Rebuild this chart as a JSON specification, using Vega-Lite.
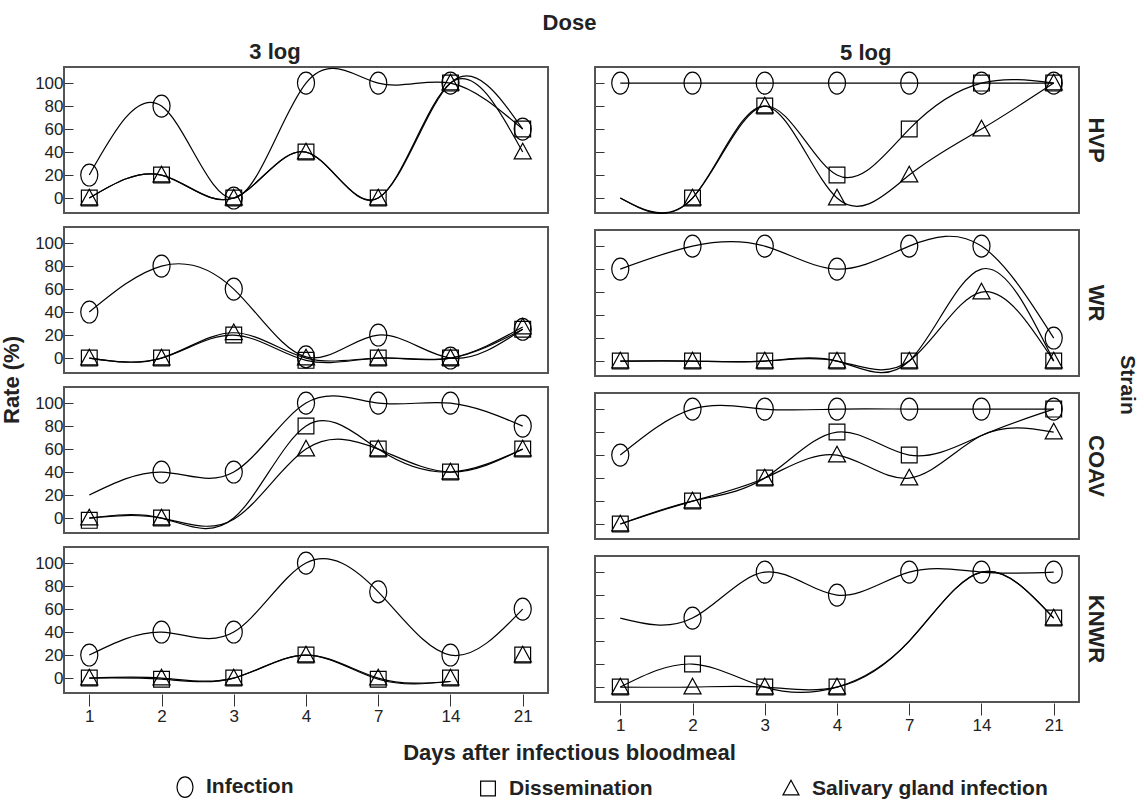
{
  "$schema": "https://vega.github.io/schema/vega-lite/v6.json",
  "padding": {"top": 12, "left": 0, "right": 0, "bottom": 0},
  "config": {
    "font": "Liberation Sans",
    "view": {"stroke": "#555555", "strokeWidth": 2},
    "axis": {"labelFont": "Liberation Sans", "labelColor": "#222222", "tickColor": "#333333", "domain": false, "grid": false, "labelOverlap": false},
    "header": {"labelFont": "Liberation Sans", "titleFont": "Liberation Sans"}
  },
  "title": {"text": "Dose", "fontSize": 22, "fontWeight": "bold", "color": "#222222", "anchor": "middle", "offset": 6},
  "datasets": {
    "rates": [
      {"dose": "3 log", "strain": "HVP", "measure": "Infection", "day": "1", "point": 20, "curve": 20},
      {"dose": "3 log", "strain": "HVP", "measure": "Infection", "day": "2", "point": 80, "curve": 80},
      {"dose": "3 log", "strain": "HVP", "measure": "Infection", "day": "3", "point": 0, "curve": 0},
      {"dose": "3 log", "strain": "HVP", "measure": "Infection", "day": "4", "point": 100, "curve": 100},
      {"dose": "3 log", "strain": "HVP", "measure": "Infection", "day": "7", "point": 100, "curve": 100},
      {"dose": "3 log", "strain": "HVP", "measure": "Infection", "day": "14", "point": 100, "curve": 100},
      {"dose": "3 log", "strain": "HVP", "measure": "Infection", "day": "21", "point": 60, "curve": 60},
      {"dose": "3 log", "strain": "HVP", "measure": "Dissemination", "day": "1", "point": 0, "curve": 0},
      {"dose": "3 log", "strain": "HVP", "measure": "Dissemination", "day": "2", "point": 20, "curve": 20},
      {"dose": "3 log", "strain": "HVP", "measure": "Dissemination", "day": "3", "point": 0, "curve": 0},
      {"dose": "3 log", "strain": "HVP", "measure": "Dissemination", "day": "4", "point": 40, "curve": 40},
      {"dose": "3 log", "strain": "HVP", "measure": "Dissemination", "day": "7", "point": 0, "curve": 0},
      {"dose": "3 log", "strain": "HVP", "measure": "Dissemination", "day": "14", "point": 100, "curve": 100},
      {"dose": "3 log", "strain": "HVP", "measure": "Dissemination", "day": "21", "point": 60, "curve": 60},
      {"dose": "3 log", "strain": "HVP", "measure": "Salivary gland infection", "day": "1", "point": 0, "curve": 0},
      {"dose": "3 log", "strain": "HVP", "measure": "Salivary gland infection", "day": "2", "point": 20, "curve": 20},
      {"dose": "3 log", "strain": "HVP", "measure": "Salivary gland infection", "day": "3", "point": 0, "curve": 0},
      {"dose": "3 log", "strain": "HVP", "measure": "Salivary gland infection", "day": "4", "point": 40, "curve": 40},
      {"dose": "3 log", "strain": "HVP", "measure": "Salivary gland infection", "day": "7", "point": 0, "curve": 0},
      {"dose": "3 log", "strain": "HVP", "measure": "Salivary gland infection", "day": "14", "point": 100, "curve": 100},
      {"dose": "3 log", "strain": "HVP", "measure": "Salivary gland infection", "day": "21", "point": 40, "curve": 40},

      {"dose": "5 log", "strain": "HVP", "measure": "Infection", "day": "1", "point": 100, "curve": 100},
      {"dose": "5 log", "strain": "HVP", "measure": "Infection", "day": "2", "point": 100, "curve": 100},
      {"dose": "5 log", "strain": "HVP", "measure": "Infection", "day": "3", "point": 100, "curve": 100},
      {"dose": "5 log", "strain": "HVP", "measure": "Infection", "day": "4", "point": 100, "curve": 100},
      {"dose": "5 log", "strain": "HVP", "measure": "Infection", "day": "7", "point": 100, "curve": 100},
      {"dose": "5 log", "strain": "HVP", "measure": "Infection", "day": "14", "point": 100, "curve": 100},
      {"dose": "5 log", "strain": "HVP", "measure": "Infection", "day": "21", "point": 100, "curve": 100},
      {"dose": "5 log", "strain": "HVP", "measure": "Dissemination", "day": "1", "point": null, "curve": 0},
      {"dose": "5 log", "strain": "HVP", "measure": "Dissemination", "day": "2", "point": 0, "curve": 0},
      {"dose": "5 log", "strain": "HVP", "measure": "Dissemination", "day": "3", "point": 80, "curve": 80},
      {"dose": "5 log", "strain": "HVP", "measure": "Dissemination", "day": "4", "point": 20, "curve": 20},
      {"dose": "5 log", "strain": "HVP", "measure": "Dissemination", "day": "7", "point": 60, "curve": 60},
      {"dose": "5 log", "strain": "HVP", "measure": "Dissemination", "day": "14", "point": 100, "curve": 100},
      {"dose": "5 log", "strain": "HVP", "measure": "Dissemination", "day": "21", "point": 100, "curve": 100},
      {"dose": "5 log", "strain": "HVP", "measure": "Salivary gland infection", "day": "1", "point": null, "curve": 0},
      {"dose": "5 log", "strain": "HVP", "measure": "Salivary gland infection", "day": "2", "point": 0, "curve": 0},
      {"dose": "5 log", "strain": "HVP", "measure": "Salivary gland infection", "day": "3", "point": 80, "curve": 80},
      {"dose": "5 log", "strain": "HVP", "measure": "Salivary gland infection", "day": "4", "point": 0, "curve": 0},
      {"dose": "5 log", "strain": "HVP", "measure": "Salivary gland infection", "day": "7", "point": 20, "curve": 20},
      {"dose": "5 log", "strain": "HVP", "measure": "Salivary gland infection", "day": "14", "point": 60, "curve": 60},
      {"dose": "5 log", "strain": "HVP", "measure": "Salivary gland infection", "day": "21", "point": 100, "curve": 100},

      {"dose": "3 log", "strain": "WR", "measure": "Infection", "day": "1", "point": 40, "curve": 40},
      {"dose": "3 log", "strain": "WR", "measure": "Infection", "day": "2", "point": 80, "curve": 80},
      {"dose": "3 log", "strain": "WR", "measure": "Infection", "day": "3", "point": 60, "curve": 60},
      {"dose": "3 log", "strain": "WR", "measure": "Infection", "day": "4", "point": 1, "curve": 1},
      {"dose": "3 log", "strain": "WR", "measure": "Infection", "day": "7", "point": 20, "curve": 20},
      {"dose": "3 log", "strain": "WR", "measure": "Infection", "day": "14", "point": 0, "curve": 0},
      {"dose": "3 log", "strain": "WR", "measure": "Infection", "day": "21", "point": 25, "curve": 25},
      {"dose": "3 log", "strain": "WR", "measure": "Dissemination", "day": "1", "point": 0, "curve": 0},
      {"dose": "3 log", "strain": "WR", "measure": "Dissemination", "day": "2", "point": 0, "curve": 0},
      {"dose": "3 log", "strain": "WR", "measure": "Dissemination", "day": "3", "point": 20, "curve": 20},
      {"dose": "3 log", "strain": "WR", "measure": "Dissemination", "day": "4", "point": -2, "curve": -2},
      {"dose": "3 log", "strain": "WR", "measure": "Dissemination", "day": "7", "point": 0, "curve": 0},
      {"dose": "3 log", "strain": "WR", "measure": "Dissemination", "day": "14", "point": 0, "curve": 0},
      {"dose": "3 log", "strain": "WR", "measure": "Dissemination", "day": "21", "point": 25, "curve": 25},
      {"dose": "3 log", "strain": "WR", "measure": "Salivary gland infection", "day": "1", "point": 0, "curve": 0},
      {"dose": "3 log", "strain": "WR", "measure": "Salivary gland infection", "day": "2", "point": 0, "curve": 0},
      {"dose": "3 log", "strain": "WR", "measure": "Salivary gland infection", "day": "3", "point": 22, "curve": 22},
      {"dose": "3 log", "strain": "WR", "measure": "Salivary gland infection", "day": "4", "point": 0, "curve": 0},
      {"dose": "3 log", "strain": "WR", "measure": "Salivary gland infection", "day": "7", "point": 0, "curve": 0},
      {"dose": "3 log", "strain": "WR", "measure": "Salivary gland infection", "day": "14", "point": 0, "curve": 0},
      {"dose": "3 log", "strain": "WR", "measure": "Salivary gland infection", "day": "21", "point": 27, "curve": 27},

      {"dose": "5 log", "strain": "WR", "measure": "Infection", "day": "1", "point": 80, "curve": 80},
      {"dose": "5 log", "strain": "WR", "measure": "Infection", "day": "2", "point": 100, "curve": 100},
      {"dose": "5 log", "strain": "WR", "measure": "Infection", "day": "3", "point": 100, "curve": 100},
      {"dose": "5 log", "strain": "WR", "measure": "Infection", "day": "4", "point": 80, "curve": 80},
      {"dose": "5 log", "strain": "WR", "measure": "Infection", "day": "7", "point": 100, "curve": 100},
      {"dose": "5 log", "strain": "WR", "measure": "Infection", "day": "14", "point": 100, "curve": 100},
      {"dose": "5 log", "strain": "WR", "measure": "Infection", "day": "21", "point": 20, "curve": 20},
      {"dose": "5 log", "strain": "WR", "measure": "Dissemination", "day": "1", "point": 0, "curve": 0},
      {"dose": "5 log", "strain": "WR", "measure": "Dissemination", "day": "2", "point": 0, "curve": 0},
      {"dose": "5 log", "strain": "WR", "measure": "Dissemination", "day": "3", "point": 0, "curve": 0},
      {"dose": "5 log", "strain": "WR", "measure": "Dissemination", "day": "4", "point": 0, "curve": 0},
      {"dose": "5 log", "strain": "WR", "measure": "Dissemination", "day": "7", "point": 0, "curve": 0},
      {"dose": "5 log", "strain": "WR", "measure": "Dissemination", "day": "14", "point": null, "curve": 80},
      {"dose": "5 log", "strain": "WR", "measure": "Dissemination", "day": "21", "point": 0, "curve": 0},
      {"dose": "5 log", "strain": "WR", "measure": "Salivary gland infection", "day": "1", "point": 0, "curve": 0},
      {"dose": "5 log", "strain": "WR", "measure": "Salivary gland infection", "day": "2", "point": 0, "curve": 0},
      {"dose": "5 log", "strain": "WR", "measure": "Salivary gland infection", "day": "3", "point": 0, "curve": 0},
      {"dose": "5 log", "strain": "WR", "measure": "Salivary gland infection", "day": "4", "point": 0, "curve": 0},
      {"dose": "5 log", "strain": "WR", "measure": "Salivary gland infection", "day": "7", "point": 0, "curve": 0},
      {"dose": "5 log", "strain": "WR", "measure": "Salivary gland infection", "day": "14", "point": 60, "curve": 60},
      {"dose": "5 log", "strain": "WR", "measure": "Salivary gland infection", "day": "21", "point": 0, "curve": 0},

      {"dose": "3 log", "strain": "COAV", "measure": "Infection", "day": "1", "point": null, "curve": 20},
      {"dose": "3 log", "strain": "COAV", "measure": "Infection", "day": "2", "point": 40, "curve": 40},
      {"dose": "3 log", "strain": "COAV", "measure": "Infection", "day": "3", "point": 40, "curve": 40},
      {"dose": "3 log", "strain": "COAV", "measure": "Infection", "day": "4", "point": 100, "curve": 100},
      {"dose": "3 log", "strain": "COAV", "measure": "Infection", "day": "7", "point": 100, "curve": 100},
      {"dose": "3 log", "strain": "COAV", "measure": "Infection", "day": "14", "point": 100, "curve": 100},
      {"dose": "3 log", "strain": "COAV", "measure": "Infection", "day": "21", "point": 80, "curve": 80},
      {"dose": "3 log", "strain": "COAV", "measure": "Dissemination", "day": "1", "point": -2, "curve": 0},
      {"dose": "3 log", "strain": "COAV", "measure": "Dissemination", "day": "2", "point": 0, "curve": 0},
      {"dose": "3 log", "strain": "COAV", "measure": "Dissemination", "day": "3", "point": null, "curve": 0},
      {"dose": "3 log", "strain": "COAV", "measure": "Dissemination", "day": "4", "point": 80, "curve": 80},
      {"dose": "3 log", "strain": "COAV", "measure": "Dissemination", "day": "7", "point": 60, "curve": 60},
      {"dose": "3 log", "strain": "COAV", "measure": "Dissemination", "day": "14", "point": 40, "curve": 40},
      {"dose": "3 log", "strain": "COAV", "measure": "Dissemination", "day": "21", "point": 60, "curve": 60},
      {"dose": "3 log", "strain": "COAV", "measure": "Salivary gland infection", "day": "1", "point": 0, "curve": 0},
      {"dose": "3 log", "strain": "COAV", "measure": "Salivary gland infection", "day": "2", "point": 0, "curve": 0},
      {"dose": "3 log", "strain": "COAV", "measure": "Salivary gland infection", "day": "3", "point": null, "curve": -1},
      {"dose": "3 log", "strain": "COAV", "measure": "Salivary gland infection", "day": "4", "point": 60, "curve": 60},
      {"dose": "3 log", "strain": "COAV", "measure": "Salivary gland infection", "day": "7", "point": 60, "curve": 60},
      {"dose": "3 log", "strain": "COAV", "measure": "Salivary gland infection", "day": "14", "point": 40, "curve": 40},
      {"dose": "3 log", "strain": "COAV", "measure": "Salivary gland infection", "day": "21", "point": 60, "curve": 60},

      {"dose": "5 log", "strain": "COAV", "measure": "Infection", "day": "1", "point": 60, "curve": 60},
      {"dose": "5 log", "strain": "COAV", "measure": "Infection", "day": "2", "point": 100, "curve": 100},
      {"dose": "5 log", "strain": "COAV", "measure": "Infection", "day": "3", "point": 100, "curve": 100},
      {"dose": "5 log", "strain": "COAV", "measure": "Infection", "day": "4", "point": 100, "curve": 100},
      {"dose": "5 log", "strain": "COAV", "measure": "Infection", "day": "7", "point": 100, "curve": 100},
      {"dose": "5 log", "strain": "COAV", "measure": "Infection", "day": "14", "point": 100, "curve": 100},
      {"dose": "5 log", "strain": "COAV", "measure": "Infection", "day": "21", "point": 100, "curve": 100},
      {"dose": "5 log", "strain": "COAV", "measure": "Dissemination", "day": "1", "point": 0, "curve": 0},
      {"dose": "5 log", "strain": "COAV", "measure": "Dissemination", "day": "2", "point": 20, "curve": 20},
      {"dose": "5 log", "strain": "COAV", "measure": "Dissemination", "day": "3", "point": 40, "curve": 40},
      {"dose": "5 log", "strain": "COAV", "measure": "Dissemination", "day": "4", "point": 80, "curve": 80},
      {"dose": "5 log", "strain": "COAV", "measure": "Dissemination", "day": "7", "point": 60, "curve": 60},
      {"dose": "5 log", "strain": "COAV", "measure": "Dissemination", "day": "14", "point": null, "curve": 77},
      {"dose": "5 log", "strain": "COAV", "measure": "Dissemination", "day": "21", "point": 100, "curve": 100},
      {"dose": "5 log", "strain": "COAV", "measure": "Salivary gland infection", "day": "1", "point": 0, "curve": 0},
      {"dose": "5 log", "strain": "COAV", "measure": "Salivary gland infection", "day": "2", "point": 20, "curve": 20},
      {"dose": "5 log", "strain": "COAV", "measure": "Salivary gland infection", "day": "3", "point": 40, "curve": 40},
      {"dose": "5 log", "strain": "COAV", "measure": "Salivary gland infection", "day": "4", "point": 60, "curve": 60},
      {"dose": "5 log", "strain": "COAV", "measure": "Salivary gland infection", "day": "7", "point": 40, "curve": 40},
      {"dose": "5 log", "strain": "COAV", "measure": "Salivary gland infection", "day": "14", "point": null, "curve": 77},
      {"dose": "5 log", "strain": "COAV", "measure": "Salivary gland infection", "day": "21", "point": 80, "curve": 80},

      {"dose": "3 log", "strain": "KNWR", "measure": "Infection", "day": "1", "point": 20, "curve": 20},
      {"dose": "3 log", "strain": "KNWR", "measure": "Infection", "day": "2", "point": 40, "curve": 40},
      {"dose": "3 log", "strain": "KNWR", "measure": "Infection", "day": "3", "point": 40, "curve": 40},
      {"dose": "3 log", "strain": "KNWR", "measure": "Infection", "day": "4", "point": 100, "curve": 100},
      {"dose": "3 log", "strain": "KNWR", "measure": "Infection", "day": "7", "point": 75, "curve": 75},
      {"dose": "3 log", "strain": "KNWR", "measure": "Infection", "day": "14", "point": 20, "curve": 20},
      {"dose": "3 log", "strain": "KNWR", "measure": "Infection", "day": "21", "point": 60, "curve": 60},
      {"dose": "3 log", "strain": "KNWR", "measure": "Dissemination", "day": "1", "point": 0, "curve": 0},
      {"dose": "3 log", "strain": "KNWR", "measure": "Dissemination", "day": "2", "point": -1, "curve": -1},
      {"dose": "3 log", "strain": "KNWR", "measure": "Dissemination", "day": "3", "point": 0, "curve": 0},
      {"dose": "3 log", "strain": "KNWR", "measure": "Dissemination", "day": "4", "point": 20, "curve": 20},
      {"dose": "3 log", "strain": "KNWR", "measure": "Dissemination", "day": "7", "point": -1, "curve": -1},
      {"dose": "3 log", "strain": "KNWR", "measure": "Dissemination", "day": "14", "point": 0, "curve": -3},
      {"dose": "3 log", "strain": "KNWR", "measure": "Dissemination", "day": "21", "point": 20, "curve": null},
      {"dose": "3 log", "strain": "KNWR", "measure": "Salivary gland infection", "day": "1", "point": 0, "curve": 0},
      {"dose": "3 log", "strain": "KNWR", "measure": "Salivary gland infection", "day": "2", "point": 0, "curve": 0},
      {"dose": "3 log", "strain": "KNWR", "measure": "Salivary gland infection", "day": "3", "point": 0, "curve": 0},
      {"dose": "3 log", "strain": "KNWR", "measure": "Salivary gland infection", "day": "4", "point": 20, "curve": 20},
      {"dose": "3 log", "strain": "KNWR", "measure": "Salivary gland infection", "day": "7", "point": 0, "curve": 0},
      {"dose": "3 log", "strain": "KNWR", "measure": "Salivary gland infection", "day": "14", "point": 0, "curve": -3},
      {"dose": "3 log", "strain": "KNWR", "measure": "Salivary gland infection", "day": "21", "point": 20, "curve": null},

      {"dose": "5 log", "strain": "KNWR", "measure": "Infection", "day": "1", "point": null, "curve": 60},
      {"dose": "5 log", "strain": "KNWR", "measure": "Infection", "day": "2", "point": 60, "curve": 60},
      {"dose": "5 log", "strain": "KNWR", "measure": "Infection", "day": "3", "point": 100, "curve": 100},
      {"dose": "5 log", "strain": "KNWR", "measure": "Infection", "day": "4", "point": 80, "curve": 80},
      {"dose": "5 log", "strain": "KNWR", "measure": "Infection", "day": "7", "point": 100, "curve": 100},
      {"dose": "5 log", "strain": "KNWR", "measure": "Infection", "day": "14", "point": 100, "curve": 100},
      {"dose": "5 log", "strain": "KNWR", "measure": "Infection", "day": "21", "point": 100, "curve": 100},
      {"dose": "5 log", "strain": "KNWR", "measure": "Dissemination", "day": "1", "point": 0, "curve": 0},
      {"dose": "5 log", "strain": "KNWR", "measure": "Dissemination", "day": "2", "point": 20, "curve": 20},
      {"dose": "5 log", "strain": "KNWR", "measure": "Dissemination", "day": "3", "point": 0, "curve": 0},
      {"dose": "5 log", "strain": "KNWR", "measure": "Dissemination", "day": "4", "point": 0, "curve": 0},
      {"dose": "5 log", "strain": "KNWR", "measure": "Dissemination", "day": "7", "point": null, "curve": 40},
      {"dose": "5 log", "strain": "KNWR", "measure": "Dissemination", "day": "14", "point": null, "curve": 100},
      {"dose": "5 log", "strain": "KNWR", "measure": "Dissemination", "day": "21", "point": 60, "curve": 60},
      {"dose": "5 log", "strain": "KNWR", "measure": "Salivary gland infection", "day": "1", "point": 0, "curve": 0},
      {"dose": "5 log", "strain": "KNWR", "measure": "Salivary gland infection", "day": "2", "point": 0, "curve": 0},
      {"dose": "5 log", "strain": "KNWR", "measure": "Salivary gland infection", "day": "3", "point": 0, "curve": 0},
      {"dose": "5 log", "strain": "KNWR", "measure": "Salivary gland infection", "day": "4", "point": 0, "curve": 0},
      {"dose": "5 log", "strain": "KNWR", "measure": "Salivary gland infection", "day": "7", "point": null, "curve": 40},
      {"dose": "5 log", "strain": "KNWR", "measure": "Salivary gland infection", "day": "14", "point": null, "curve": 100},
      {"dose": "5 log", "strain": "KNWR", "measure": "Salivary gland infection", "day": "21", "point": 60, "curve": 60}
    ]
  },
  "vconcat": [
    {
      "title": {"text": "Days after infectious bloodmeal", "orient": "bottom", "fontSize": 22, "fontWeight": "bold", "color": "#222222", "anchor": "middle", "offset": 10},
      "spacing": 44,
      "hconcat": [
        {
          "title": {"text": "3 log", "fontSize": 22, "fontWeight": "bold", "color": "#222222", "anchor": "middle", "offset": 1},
          "data": {"name": "rates"},
          "transform": [{"filter": "datum.dose == '3 log'"}],
          "facet": {
            "row": {
              "field": "strain", "type": "nominal", "sort": ["HVP", "WR", "COAV", "KNWR"],
              "title": "Rate (%)",
              "header": {"labels": false, "titleFontSize": 22, "titleFontWeight": "bold", "titleColor": "#222222", "titlePadding": 0}
            }
          },
          "spacing": {"row": 12},
          "spec": {
            "width": 484, "height": 146,
            "layer": [
              {
                "transform": [{"filter": "datum.curve != null"}],
                "mark": {"type": "line", "interpolate": "natural", "color": "black", "strokeWidth": 1.2},
                "encoding": {
                  "x": {"field": "day", "type": "ordinal", "sort": ["1", "2", "3", "4", "7", "14", "21"], "scale": {"type": "point", "padding": 0.35},
                        "axis": {"title": null, "labelAngle": 0, "labelFontSize": 17, "tickSize": 12, "labelPadding": 2}},
                  "y": {"field": "curve", "type": "quantitative", "scale": {"domain": [-13, 114], "nice": false, "zero": false},
                        "axis": {"title": null, "values": [0, 20, 40, 60, 80, 100], "tickSize": -10, "labelPadding": 10, "labelFontSize": 17}},
                  "detail": {"field": "measure"}
                }
              },
              {
                "transform": [{"filter": "datum.point != null"}],
                "mark": {"type": "point", "filled": false, "stroke": "black", "strokeWidth": 1.2, "size": 480, "opacity": 1},
                "encoding": {
                  "x": {"field": "day", "type": "ordinal", "sort": ["1", "2", "3", "4", "7", "14", "21"], "scale": {"type": "point", "padding": 0.35},
                        "axis": {"title": null, "labelAngle": 0, "labelFontSize": 17, "tickSize": 12, "labelPadding": 2}},
                  "y": {"field": "point", "type": "quantitative", "scale": {"domain": [-13, 114], "nice": false, "zero": false},
                        "axis": {"title": null, "values": [0, 20, 40, 60, 80, 100], "tickSize": -10, "labelPadding": 10, "labelFontSize": 17}},
                  "shape": {"field": "measure", "type": "nominal",
                            "scale": {"domain": ["Infection", "Dissemination", "Salivary gland infection"],
                                      "range": ["M0,-1A0.78,1 0 1,1 0,1A0.78,1 0 1,1 0,-1Z", "M-0.72,-0.72H0.72V0.72H-0.72Z", "M0,-0.8L0.78,0.62L-0.78,0.62Z"]},
                            "legend": {"orient": "none", "legendX": 110, "legendY": 709, "direction": "horizontal", "title": null, "labelFontSize": 21, "labelFontWeight": "bold", "labelColor": "#222222", "labelLimit": 400, "symbolSize": 420, "symbolStrokeColor": "black", "symbolStrokeWidth": 1.2, "symbolFillColor": "transparent", "gridAlign": "all", "columnPadding": 35, "labelOffset": 10, "padding": 0}}
                }
              }
            ]
          }
        },
        {
          "title": {"text": "5 log", "fontSize": 22, "fontWeight": "bold", "color": "#222222", "anchor": "middle", "offset": 1},
          "data": {"name": "rates"},
          "transform": [{"filter": "datum.dose == '5 log'"}],
          "facet": {
            "row": {
              "field": "strain", "type": "nominal", "sort": ["HVP", "WR", "COAV", "KNWR"],
              "title": "Strain",
              "header": {"labelOrient": "right", "labelAngle": 90, "labelFontSize": 22, "labelFontWeight": "bold", "labelColor": "#222222", "labelPadding": 4,
                         "titleOrient": "right", "titleAngle": 90, "titleFontSize": 21, "titleFontWeight": "bold", "titleColor": "#222222", "titlePadding": 0}
            }
          },
          "spacing": {"row": 12},
          "spec": {
            "width": 484, "height": 146,
            "layer": [
              {
                "transform": [{"filter": "datum.curve != null"}],
                "mark": {"type": "line", "interpolate": "natural", "color": "black", "strokeWidth": 1.2},
                "encoding": {
                  "x": {"field": "day", "type": "ordinal", "sort": ["1", "2", "3", "4", "7", "14", "21"], "scale": {"type": "point", "padding": 0.35},
                        "axis": {"title": null, "labelAngle": 0, "labelFontSize": 17, "tickSize": 12, "labelPadding": 2}},
                  "y": {"field": "curve", "type": "quantitative", "scale": {"domain": [-13, 114], "nice": false, "zero": false},
                        "axis": {"title": null, "values": [0, 20, 40, 60, 80, 100], "labels": false, "tickSize": -10}},
                  "detail": {"field": "measure"}
                }
              },
              {
                "transform": [{"filter": "datum.point != null"}],
                "mark": {"type": "point", "filled": false, "stroke": "black", "strokeWidth": 1.2, "size": 480, "opacity": 1},
                "encoding": {
                  "x": {"field": "day", "type": "ordinal", "sort": ["1", "2", "3", "4", "7", "14", "21"], "scale": {"type": "point", "padding": 0.35},
                        "axis": {"title": null, "labelAngle": 0, "labelFontSize": 17, "tickSize": 12, "labelPadding": 2}},
                  "y": {"field": "point", "type": "quantitative", "scale": {"domain": [-13, 114], "nice": false, "zero": false},
                        "axis": {"title": null, "values": [0, 20, 40, 60, 80, 100], "labels": false, "tickSize": -10}},
                  "shape": {"field": "measure", "type": "nominal",
                            "scale": {"domain": ["Infection", "Dissemination", "Salivary gland infection"],
                                      "range": ["M0,-1A0.78,1 0 1,1 0,1A0.78,1 0 1,1 0,-1Z", "M-0.72,-0.72H0.72V0.72H-0.72Z", "M0,-0.8L0.78,0.62L-0.78,0.62Z"]},
                            "legend": null}
                }
              }
            ]
          }
        }
      ]
    }
  ]
}
